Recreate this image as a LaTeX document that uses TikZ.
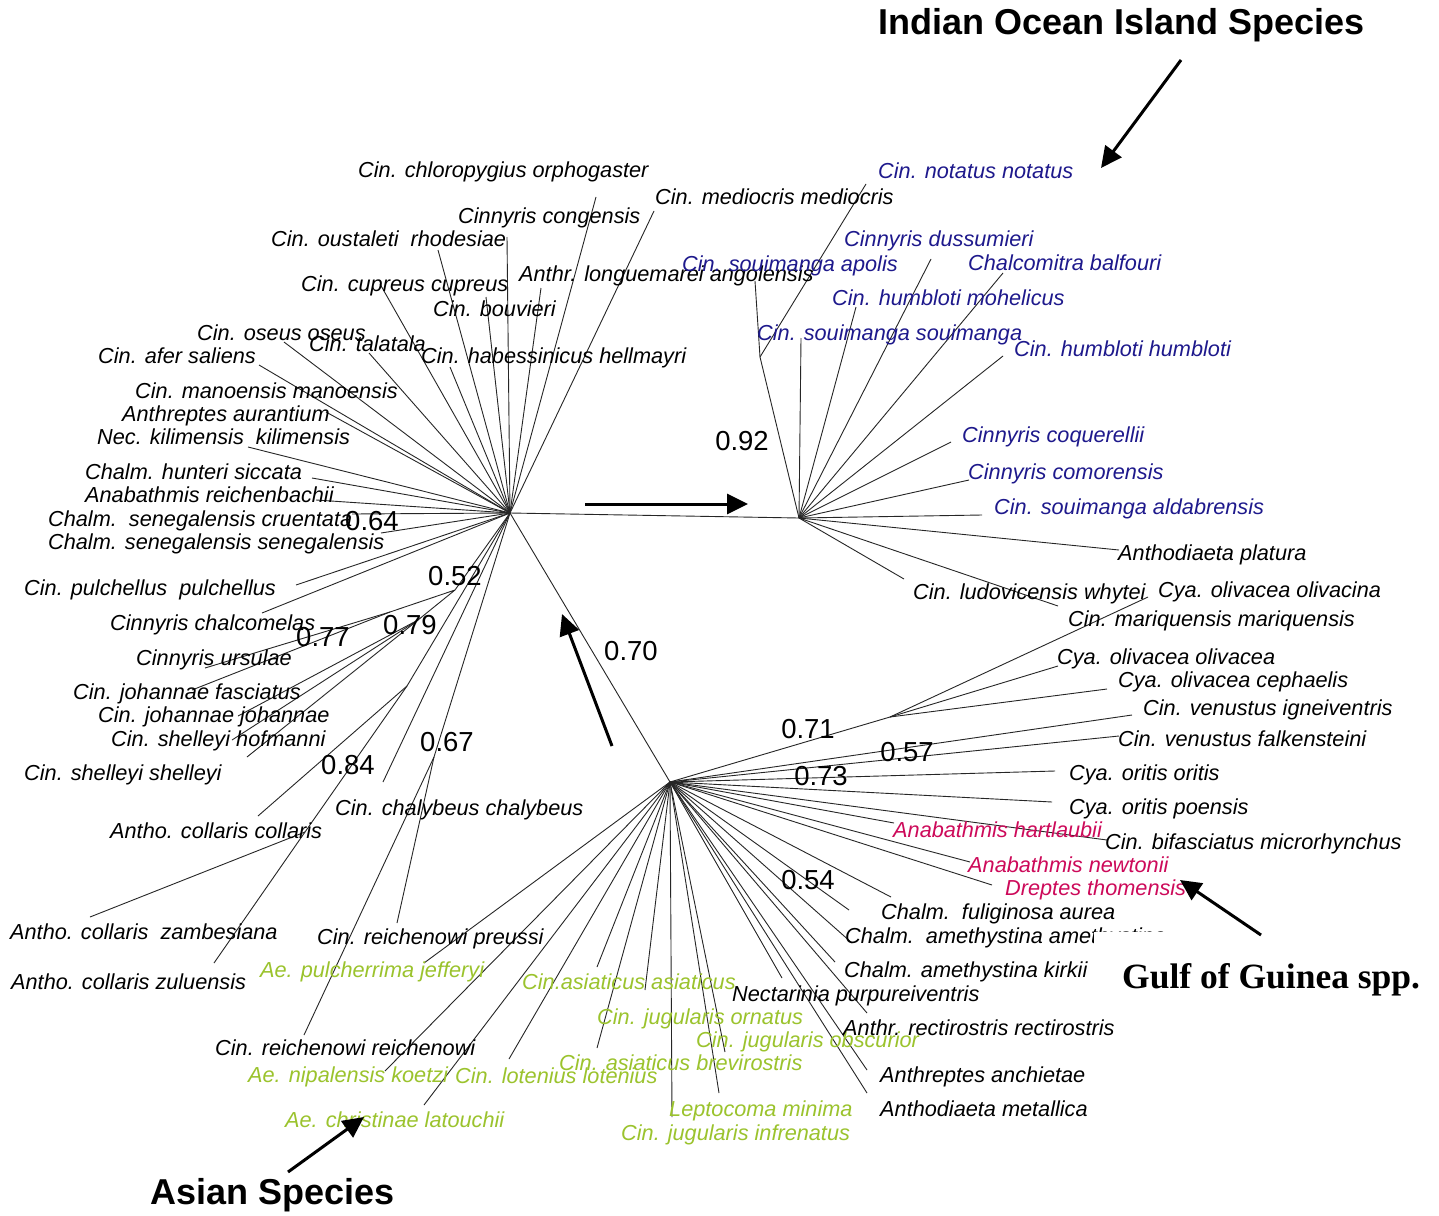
\documentclass[tikz,border=0pt]{standalone}
\usepackage{fontspec}
\setmainfont{Liberation Sans}
\newfontfamily\timesfont{Liberation Serif}
\usetikzlibrary{arrows.meta}
\definecolor{ioblue}{RGB}{30,25,140}
\definecolor{ggred}{RGB}{205,10,90}
\definecolor{asgreen}{RGB}{155,195,45}
\tikzset{
 br/.style={line width=0.9pt, draw=black!85},
 tip/.style={font=\fontsize{21.7}{24}\selectfont\itshape, anchor=base west, inner sep=0pt, yshift=-8pt},
 blue tip/.style={tip, text=ioblue},
 red tip/.style={tip, text=ggred},
 green tip/.style={tip, text=asgreen},
 blab/.style={font=\fontsize{27.5}{30}\selectfont, inner sep=0pt},
 bigarrow/.style={line width=3pt, -{Triangle[length=21pt,width=20pt]}},
 title/.style={font=\fontsize{36}{40}\selectfont\bfseries, inner sep=0pt}
}
\begin{document}
\begin{tikzpicture}[x=1pt,y=-1pt]
\useasboundingbox (0,0) rectangle (1439,1215);
\fill[white] (0,0) rectangle (1439,1215);

% hubs and internal nodes
\coordinate (H1) at (510,513);
\coordinate (H2) at (799,518);
\coordinate (H3) at (670,782);
\coordinate (NR) at (760,357);
\coordinate (N52) at (455,590);
\coordinate (N77) at (390,612);
\coordinate (N79) at (418,620);
\coordinate (N84) at (407,686);
\coordinate (NC) at (305,832);
\coordinate (N67) at (434,757);
\coordinate (N71) at (890,717);

\draw[br] (H1) -- (H2);
\draw[br] (H1) -- (H3);
\draw[br] (H2) -- (NR);
\draw[br] (H1) -- (N52) (N52) -- (N77) (N52) -- (N79);
\draw[br] (H1) -- (N84) -- (NC);
\draw[br] (H1) -- (N67);
\draw[br] (H3) -- (N71);

% tips from H1
\foreach \n/\x/\y in {a1/654/211, a2/596/197, a3/541/288, a4/507/237, a5/486/297,
  a6/438/250, a7/380/284, a8/450/367, a9/369/353, a10/284/342, a11/259/365,
  a12/326/412, a13/248/447, a14/312/478, a15/316/500, a16/352/514, a17/381/533,
  a18/296/585, a19/262/613, a20/383/782}
  {\coordinate (\n) at (\x,\y); \draw[br] (H1) -- (\n);}
\foreach \n/\x/\y in {b1/205/668, b2/192/690}
  {\coordinate (\n) at (\x,\y); \draw[br] (N77) -- (\n);}
\foreach \n/\x/\y in {b3/238/716, b4/232/740, b5/247/757}
  {\coordinate (\n) at (\x,\y); \draw[br] (N79) -- (\n);}
\coordinate (c1) at (258,816); \draw[br] (N84) -- (c1);
\foreach \n/\x/\y in {c2/90/917, c3/214/963}
  {\coordinate (\n) at (\x,\y); \draw[br] (NC) -- (\n);}
\foreach \n/\x/\y in {d1/397/923, d2/304/1035}
  {\coordinate (\n) at (\x,\y); \draw[br] (N67) -- (\n);}

% tips from H2
\foreach \n/\x/\y in {e1/801/338, e2/856/307, e3/931/259, e4/1003/273, e5/1003/356,
  e6/951/442, e7/969/480, e8/982/515, e9/1119/550, e10/904/579, e11/1058/606}
  {\coordinate (\n) at (\x,\y); \draw[br] (H2) -- (\n);}
\foreach \n/\x/\y in {f1/755/281, f2/866/184}
  {\coordinate (\n) at (\x,\y); \draw[br] (NR) -- (\n);}

% tips from H3
\foreach \n/\x/\y in {g1/1148/597, g2/1058/666, g3/1107/689}
  {\coordinate (\n) at (\x,\y); \draw[br] (N71) -- (\n);}
\foreach \n/\x/\y in {h1/1132/715, h2/1119/736, h3/1055/771, h4/1052/802, h5/894/823,
  h6/1107/840, h7/970/862, h8/992/885, h9/891/897, h10/849/910, h11/852/943,
  h12/835/962, h13/782/978, h14/867/1013, h15/867/1070, h16/867/1093,
  h17/725/1052, h18/719/1093, h19/672/1117, h20/645/990, h21/597/1048,
  h22/597/967, h23/509/1059, h24/424/1105, h25/385/1071, h26/424/963}
  {\coordinate (\n) at (\x,\y); \draw[br] (H3) -- (\n);}

% black labels (left cluster)
\node[tip] (t1) at (358,169) {Cin. chloropygius orphogaster};
\node[tip] (t2) at (458,215) {Cinnyris congensis};
\node[tip] (t3) at (655,196) {Cin. mediocris mediocris};
\node[tip] (t4) at (271,238) {Cin. oustaleti\ \ rhodesiae};
\node[tip] (t5) at (301,283) {Cin. cupreus cupreus};
\node[tip] (t6) at (519,273) {Anthr. longuemarei angolensis};
\node[tip] (t7) at (433,308) {Cin. bouvieri};
\node[tip] (t8) at (197,332) {Cin. oseus oseus};
\node[tip] (t9) at (309,343) {Cin. talatala};
\node[tip] (t10) at (98,355) {Cin. afer saliens};
\node[tip] (t11) at (421,355) {Cin. habessinicus hellmayri};
\node[tip] (t12) at (135,390) {Cin. manoensis manoensis};
\node[tip] (t13) at (122,413) {Anthreptes aurantium};
\node[tip] (t14) at (97,436) {Nec. kilimensis\ \ kilimensis};
\node[tip] (t15) at (85,471) {Chalm. hunteri siccata};
\node[tip] (t16) at (85,494) {Anabathmis reichenbachii};
\node[tip] (t17) at (48,518) {Chalm.\ \ senegalensis cruentata};
\node[tip] (t18) at (48,541) {Chalm. senegalensis senegalensis};
\node[tip] (t19) at (24,587) {Cin. pulchellus\ \ pulchellus};
\node[tip] (t20) at (110,622) {Cinnyris chalcomelas};
\node[tip] (t21) at (136,657) {Cinnyris ursulae};
\node[tip] (t22) at (73,691) {Cin. johannae fasciatus};
\node[tip] (t23) at (98,714) {Cin. johannae johannae};
\node[tip] (t24) at (111,738) {Cin. shelleyi hofmanni};
\node[tip] (t25) at (24,772) {Cin. shelleyi shelleyi};
\node[tip] (t26) at (335,807) {Cin. chalybeus chalybeus};
\node[tip] (t27) at (110,830) {Antho. collaris collaris};
\node[tip] (t28) at (10,931) {Antho. collaris\ \ zambesiana};
\node[tip] (t29) at (11,981) {Antho. collaris zuluensis};
\node[tip] (t30) at (317,936) {Cin. reichenowi preussi};
\node[tip] (t31) at (215,1047) {Cin. reichenowi reichenowi};

% green labels
\node[green tip] (g32) at (260,969) {Ae. pulcherrima jefferyi};
\node[green tip] (g33) at (248,1074) {Ae. nipalensis koetzi};
\node[green tip] (g34) at (285,1119) {Ae. christinae latouchii};
\node[green tip] (g35) at (455,1075) {Cin. lotenius lotenius};
\node[green tip] (g36) at (522,981) {Cin.asiaticus asiaticus};
\node[green tip] (g37) at (597,1016) {Cin. jugularis ornatus};
\node[green tip] (g38) at (696,1039) {Cin. jugularis obscurior};
\node[green tip] (g39) at (559,1062) {Cin. asiaticus brevirostris};
\node[green tip] (g40) at (669,1108) {Leptocoma minima};
\node[green tip] (g41) at (621,1132) {Cin. jugularis infrenatus};

% black labels (bottom right)
\node[tip] (t42) at (732,993) {Nectarinia purpureiventris};
\node[tip] (t43) at (843,1027) {Anthr. rectirostris rectirostris};
\node[tip] (t44) at (880,1074) {Anthreptes anchietae};
\node[tip] (t45) at (880,1108) {Anthodiaeta metallica};
\node[tip] (t46) at (844,969) {Chalm. amethystina kirkii};
\node[tip] (t47) at (845,935) {Chalm.\ \ amethystina amethystina};
\fill[white] (1094,932) rectangle (1180,950);
\node[tip] (t48) at (881,911) {Chalm.\ \ fuliginosa aurea};

% red labels
\node[red tip] (r49) at (893,829) {Anabathmis hartlaubii};
\node[red tip] (r50) at (968,864) {Anabathmis newtonii};
\node[red tip] (r51) at (1005,887) {Dreptes thomensis};

% black labels (right)
\node[tip] (t52) at (1105,841) {Cin. bifasciatus microrhynchus};
\node[tip] (t53) at (1069,806) {Cya. oritis poensis};
\node[tip] (t54) at (1069,772) {Cya. oritis oritis};
\node[tip] (t55) at (1118,738) {Cin. venustus falkensteini};
\node[tip] (t56) at (1143,707) {Cin. venustus igneiventris};
\node[tip] (t57) at (1118,679) {Cya. olivacea cephaelis};
\node[tip] (t58) at (1057,656) {Cya. olivacea olivacea};
\node[tip] (t59) at (1068,618) {Cin. mariquensis mariquensis};
\node[tip] (t60) at (1158,589) {Cya. olivacea olivacina};
\node[tip] (t61) at (913,591) {Cin. ludovicensis whytei};
\node[tip] (t62) at (1118,552) {Anthodiaeta platura};

% blue labels
\node[blue tip] (u63) at (878,170) {Cin. notatus notatus};
\node[blue tip] (u64) at (844,238) {Cinnyris dussumieri};
\node[blue tip] (u65) at (682,263) {Cin. souimanga apolis};
\node[blue tip] (u66) at (968,262) {Chalcomitra balfouri};
\node[blue tip] (u67) at (832,297) {Cin. humbloti mohelicus};
\node[blue tip] (u68) at (757,332) {Cin. souimanga souimanga};
\node[blue tip] (u69) at (1014,348) {Cin. humbloti humbloti};
\node[blue tip] (u70) at (962,434) {Cinnyris coquerellii};
\node[blue tip] (u71) at (968,471) {Cinnyris comorensis};
\node[blue tip] (u72) at (994,506) {Cin. souimanga aldabrensis};

% support values
\node[blab] (s92) at (742,441) {0.92};
\node[blab] (s64) at (372,521) {0.64};
\node[blab] (s52) at (455,576) {0.52};
\node[blab] (s77) at (323,637) {0.77};
\node[blab] (s79) at (410,625) {0.79};
\node[blab] (s70) at (631,651) {0.70};
\node[blab] (s84) at (348,765) {0.84};
\node[blab] (s67) at (447,742) {0.67};
\node[blab] (s71) at (808,729) {0.71};
\node[blab] (s57) at (907,752) {0.57};
\node[blab] (s73) at (821,776) {0.73};
\node[blab] (s54) at (808,880) {0.54};

% group titles and arrows
\node[title, anchor=west] (io) at (878,25) {Indian Ocean Island Species};
\node[title, anchor=west] (as) at (150,1195) {Asian Species};
\node[title, anchor=west, font=\fontsize{35.5}{40}\selectfont\timesfont\bfseries] (gg) at (1122,980) {Gulf of Guinea spp.};
\coordinate (a1s) at (1181,60); \coordinate (a1e) at (1101,168);
\draw[bigarrow] (a1s) -- (a1e);
\coordinate (a2s) at (585,504); \coordinate (a2e) at (748,504);
\draw[bigarrow] (a2s) -- (a2e);
\coordinate (a3s) at (612,746); \coordinate (a3e) at (562,614);
\draw[bigarrow] (a3s) -- (a3e);
\coordinate (a4s) at (288,1172); \coordinate (a4e) at (364,1117);
\draw[bigarrow] (a4s) -- (a4e);
\coordinate (a5s) at (1261,935); \coordinate (a5e) at (1180,880);
\draw[bigarrow] (a5s) -- (a5e);
\end{tikzpicture}
\end{document}
